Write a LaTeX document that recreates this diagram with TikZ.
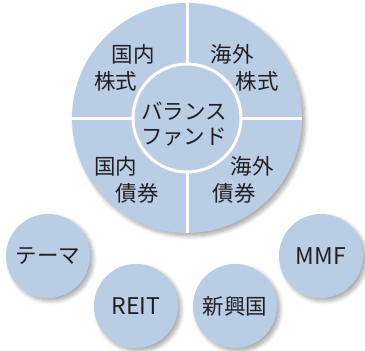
\documentclass[tikz,border=0pt]{standalone}
\usepackage{fontspec}
\setmainfont{Noto Sans CJK JP}
\usetikzlibrary{shadows.blur}
\definecolor{cblue}{HTML}{B9CDE5}
\definecolor{ctext}{HTML}{231F20}
\begin{document}
\begin{tikzpicture}[x=1pt,y=-1pt,
  bubble/.style={circle, fill=cblue, minimum size=84pt, inner sep=0pt,
    blur shadow={shadow xshift=3pt, shadow yshift=-3pt, shadow blur steps=8, shadow blur radius=4pt, shadow opacity=35}},
  lbl/.style={text=ctext, font=\fontsize{21.5}{23}\selectfont, inner sep=0pt},
  llbl/.style={text=ctext, font=\fontsize{23}{25}\selectfont, inner sep=0pt},
  divider/.style={white, line width=3pt}]
\useasboundingbox (0,0) rectangle (365,351);
% big circle
\node[circle, fill=cblue, minimum size=230pt, inner sep=0pt,
  blur shadow={shadow xshift=3pt, shadow yshift=-3pt, shadow blur steps=8, shadow blur radius=4pt, shadow opacity=35}] (big) at (187,118) {};
\draw[divider] (big.north) -- (big.south);
\draw[divider] (big.west) -- (big.east);
\node[circle, fill=cblue, draw=white, line width=3pt, minimum size=108pt, inner sep=0pt] (center) at (187,118) {};
% labels
\node[lbl] (t1a) at (133,54) {国内};
\node[lbl] (t1b) at (116,81) {株式};
\node[lbl] (t2a) at (232,54) {海外};
\node[lbl] (t2b) at (257,81) {株式};
\node[lbl] (t3a) at (116,166) {国内};
\node[lbl] (t3b) at (137,193) {債券};
\node[lbl] (t4a) at (252,166) {海外};
\node[lbl] (t4b) at (234,193) {債券};
\node[lbl] (c1) at (184,111) {バランス};
\node[lbl] (c2) at (184,137) {ファンド};
% small bubbles
\node[bubble] (theme) at (48,256) {};
\node[bubble] (reit) at (136,306) {};
\node[bubble] (emerg) at (235,306) {};
\node[bubble] (mmf) at (321,256) {};
\node[lbl] at (theme) {テーマ};
\node[llbl] at (reit) {REIT};
\node[lbl] at (emerg) {新興国};
\node[llbl] at (mmf) {MMF};
\end{tikzpicture}
\end{document}
